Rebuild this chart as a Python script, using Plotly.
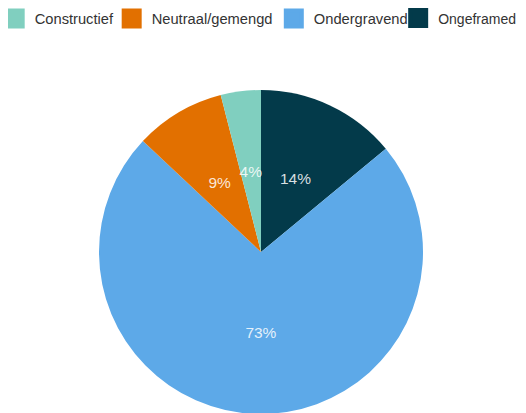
import plotly.graph_objects as go

# Frame categories and their share (%)
labels = ['Ongeframed', 'Ondergravend', 'Neutraal/gemengd', 'Constructief']
values = [14, 73, 9, 4]
colors = ['#033A4A', '#5DA9E8', '#E27000', '#80CFBF']

fig = go.Figure()

# the pie itself
fig.add_trace(go.Pie(
    labels=labels,
    values=values,
    sort=False,
    direction='clockwise',
    rotation=0,
    marker=dict(colors=colors, line=dict(width=0)),
    textinfo='none',
    showlegend=False,
    hoverinfo='label+percent',
    domain=dict(x=[0, 1], y=[0, 1]),
))

# transparent thin ring, only used to place the % labels at half radius
fig.add_trace(go.Pie(
    labels=labels,
    values=values,
    sort=False,
    direction='clockwise',
    rotation=0,
    hole=0.78,
    marker=dict(colors=['rgba(0,0,0,0)'] * len(labels), line=dict(width=0)),
    texttemplate='%{percent:.0%}',
    textposition='inside',
    insidetextorientation='horizontal',
    textfont=dict(color='rgba(255,255,255,0.85)', size=15.5),
    showlegend=False,
    hoverinfo='skip',
    domain=dict(x=[0.2, 0.8], y=[0.21875, 0.78125]),
))

# legend entries (alphabetical), each in its own legend box
legend_x = [-0.0263, 0.2049, 0.5253, 0.7711]
legend_size = [14.7, 14.7, 14.7, 14.0]
for i, lab in enumerate(sorted(labels)):
    c = colors[labels.index(lab)]
    fig.add_trace(go.Scatter(
        x=[None], y=[None], mode='markers', name=lab,
        marker=dict(symbol='square', size=16, color=c, line=dict(width=4, color=c)),
        showlegend=True, hoverinfo='skip',
        legend='legend' if i == 0 else 'legend%d' % (i + 1),
    ))

fig.update_layout(
    width=526, height=413,
    margin=dict(l=0, r=20, t=82, b=7, autoexpand=False),
    paper_bgcolor='white',
    plot_bgcolor='white',
    font=dict(family='Liberation Sans, Arial, sans-serif', size=14.7, color='#333333'),
    xaxis=dict(visible=False),
    yaxis=dict(visible=False),
    uniformtext=dict(minsize=15.5, mode='show'),
)

for i, lx in enumerate(legend_x):
    key = 'legend' if i == 0 else 'legend%d' % (i + 1)
    fig.update_layout({key: dict(
        orientation='h',
        x=lx, xanchor='left', y=1.270, yanchor='top',
        font=dict(size=legend_size[i], color='#333333'),
        bgcolor='rgba(0,0,0,0)',
        itemclick=False,
    )})

fig.write_html("out.html")
